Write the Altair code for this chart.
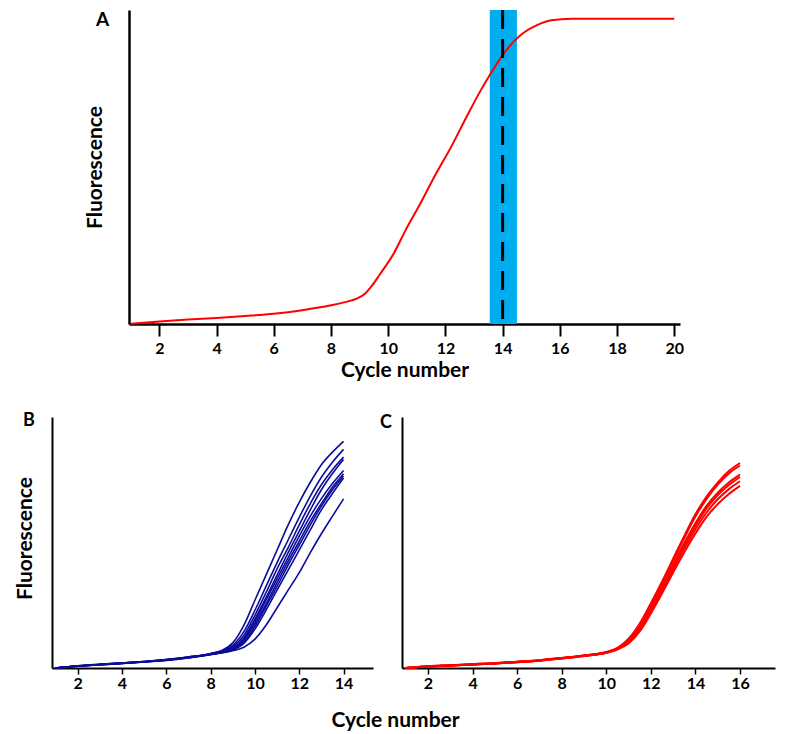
import altair as alt
import pandas as pd

# ---------------- Panel A: single amplification curve ----------------
a_cycle = [1.0, 2.0, 3.0, 4.0, 5.0, 6.0, 7.0, 8.0, 8.5, 8.9, 9.2, 9.4, 9.7,
           10.2, 10.6, 11.1, 11.6, 12.2, 12.75, 13.2, 13.6, 14.0, 14.6,
           15.2, 15.7, 16.4, 20.0]
a_fluor = [0.1, 0.8, 1.4, 1.9, 2.5, 3.2, 4.3, 5.8, 6.8, 7.9, 9.5, 11.5, 15.3,
           22.0, 29.0, 37.0, 45.5, 55.0, 64.5, 72.0, 78.0, 83.5, 89.5,
           92.8, 94.3, 94.8, 94.8]
band_start = [13.55]
band_end = [14.5]
ct_value = [14]
a_ticks = [2, 4, 6, 8, 10, 12, 14, 16, 18, 20]

# ---------------- Panel B: replicate curves (blue) ----------------
b_cycle = [1, 2, 3, 4, 5, 6, 7, 8, 8.5, 9, 9.5, 10, 10.5, 11, 11.5, 12,
           12.5, 13, 13.5, 14]
b_curves = [
    [0, 0.9, 1.5, 2.0, 2.6, 3.4, 4.4, 5.8, 7.0, 10.0, 17.0, 27.0, 37.0, 47.0, 57.0, 66.0, 74.0, 81.0, 86.0, 90.3],
    [0, 0.9, 1.5, 2.0, 2.6, 3.4, 4.4, 5.7, 6.8, 9.0, 14.5, 23.0, 32.5, 42.0, 51.0, 60.0, 68.5, 76.0, 82.0, 87.1],
    [0, 0.8, 1.4, 2.0, 2.6, 3.3, 4.3, 5.6, 6.6, 8.4, 13.0, 21.0, 30.0, 39.5, 48.0, 57.0, 65.5, 73.0, 79.0, 84.0],
    [0, 0.8, 1.4, 1.9, 2.5, 3.3, 4.3, 5.6, 6.5, 8.0, 12.0, 19.5, 28.0, 37.0, 46.0, 54.5, 63.0, 71.0, 77.5, 83.1],
    [0, 0.8, 1.4, 1.9, 2.5, 3.2, 4.2, 5.5, 6.4, 7.8, 11.5, 18.5, 27.0, 35.5, 44.0, 52.5, 60.5, 67.5, 73.5, 78.7],
    [0, 0.8, 1.3, 1.9, 2.5, 3.2, 4.2, 5.5, 6.3, 7.6, 11.0, 17.5, 25.5, 34.0, 42.5, 50.5, 58.5, 65.5, 72.0, 77.4],
    [0, 0.7, 1.3, 1.8, 2.4, 3.1, 4.1, 5.4, 6.2, 7.4, 10.3, 16.5, 24.5, 32.5, 41.0, 49.0, 57.0, 64.5, 71.0, 76.5],
    [0, 0.7, 1.3, 1.8, 2.4, 3.1, 4.1, 5.4, 6.1, 7.2, 9.8, 15.5, 23.0, 31.0, 39.0, 47.0, 55.0, 63.0, 69.5, 75.7],
    [0, 0.7, 1.3, 1.8, 2.4, 3.0, 4.0, 5.3, 6.0, 6.9, 8.3, 11.5, 17.0, 24.0, 31.0, 38.0, 46.0, 53.5, 60.5, 67.4],
]
b_ticks = [2, 4, 6, 8, 10, 12, 14]

# ---------------- Panel C: replicate curves (red) ----------------
c_cycle = [1, 2, 3, 4, 5, 6, 7, 8, 9, 10, 10.5, 11, 11.5, 12, 12.5, 13,
           13.5, 14, 14.5, 15, 15.5, 16]
c_curves = [
    [0, 0.7, 1.1, 1.5, 1.9, 2.5, 3.1, 3.9, 4.9, 6.3, 7.9, 11.5, 17.5, 25.5, 34.0, 43.0, 52.0, 60.5, 67.5, 73.0, 77.5, 80.7],
    [0, 0.7, 1.1, 1.5, 1.9, 2.5, 3.1, 3.9, 4.9, 6.2, 7.7, 11.0, 16.8, 24.8, 33.3, 42.3, 51.2, 59.6, 66.6, 72.2, 76.6, 79.7],
    [0, 0.6, 1.0, 1.4, 1.8, 2.4, 3.0, 3.8, 4.8, 6.1, 7.6, 10.5, 16.0, 23.8, 32.0, 40.8, 49.2, 57.0, 63.8, 69.0, 73.0, 76.1],
    [0, 0.6, 1.0, 1.4, 1.8, 2.4, 3.0, 3.8, 4.8, 6.1, 7.5, 10.2, 15.5, 23.0, 31.2, 40.0, 48.3, 56.0, 62.8, 68.0, 72.0, 75.2],
    [0, 0.6, 1.0, 1.4, 1.8, 2.3, 2.9, 3.7, 4.7, 6.0, 7.4, 10.0, 15.0, 22.3, 30.3, 38.8, 47.0, 54.6, 61.2, 66.4, 70.4, 73.5],
    [0, 0.6, 1.0, 1.4, 1.8, 2.3, 2.9, 3.7, 4.7, 6.0, 7.3, 9.7, 14.4, 21.5, 29.3, 37.6, 45.6, 53.0, 59.5, 64.5, 68.5, 71.7],
]
c_ticks = [2, 4, 6, 8, 10, 12, 14, 16]

FONT = "Lato"
RED = "#ff0000"
NAVY = "#0c0c9c"
CYAN = "#00aeef"

# ---------------- data frames ----------------
a_df = pd.DataFrame({"cycle": a_cycle, "fluor": a_fluor})
band_df = pd.DataFrame({"start": band_start, "end": band_end})
ct_df = pd.DataFrame({"ct": ct_value})

b_rows = []
for i, curve in enumerate(b_curves):
    for c, v in zip(b_cycle, curve):
        b_rows.append({"curve": f"B{i+1}", "cycle": c, "fluor": v})
b_df = pd.DataFrame(b_rows)

c_rows = []
for i, curve in enumerate(c_curves):
    for c, v in zip(c_cycle, curve):
        c_rows.append({"curve": f"C{i+1}", "cycle": c, "fluor": v})
c_df = pd.DataFrame(c_rows)

# ---------------- Panel A ----------------
A_W, A_H = 628, 314          # view starts at the same left as panel B
A_X0 = 77                    # panel A's plot area begins 77 px further right
xA_scale = alt.Scale(domain=[0.94, 20.2], range=[A_X0, A_W], nice=False, zero=False)
xA_axis = alt.Axis(values=a_ticks, title="Cycle number", format="d",
                   tickSize=12, tickWidth=2, domainWidth=2.5,
                   labelFontSize=16, labelPadding=17, labelBaseline="alphabetic",
                   labelFlush=False, labelOverlap=False,
                   titleFontSize=21, titleX=A_X0 + (A_W - A_X0) / 2, titleY=52,
                   titleBaseline="alphabetic")
yA = alt.Y("fluor:Q", scale=alt.Scale(domain=[0, 97.5], nice=False),
           axis=alt.Axis(title="Fluorescence", ticks=False, labels=False,
                         domainWidth=2.5, offset=-A_X0, titleFontSize=21, titleX=-34,
                         titleY=A_H / 2, titleAngle=270, titleAlign="center",
                         titleBaseline="middle"))

band = alt.Chart(band_df).mark_rect(color=CYAN).encode(
    x=alt.X("start:Q", scale=xA_scale, axis=xA_axis), x2="end:Q")
lineA = alt.Chart(a_df).mark_line(color=RED, strokeWidth=2, interpolate="monotone").encode(
    x=alt.X("cycle:Q", scale=xA_scale, axis=xA_axis), y=yA)
ruleA = alt.Chart(ct_df).mark_rule(color="black", strokeWidth=3, strokeDash=[19, 10]).encode(
    x=alt.X("ct:Q", scale=xA_scale, axis=xA_axis))

panelA = alt.layer(band, lineA, ruleA).properties(
    width=A_W, height=A_H,
    title=alt.TitleParams(text="A", anchor="start", frame="group", fontSize=19,
                          font=FONT, fontWeight="bold", baseline="alphabetic",
                          offset=0, dx=44, dy=36, color="black"))

# ---------------- Panels B and C (one view, independent scales) ----------------
BC_W, BC_H = 723, 251
C_X0 = 350

lineB = alt.Chart(b_df).mark_line(color=NAVY, strokeWidth=1.6, interpolate="monotone").encode(
    x=alt.X("cycle:Q", scale=alt.Scale(domain=[0.84, 15.33], range=[0, 321], nice=False, zero=False),
            axis=alt.Axis(orient="bottom", values=b_ticks, title="Cycle number", format="d",
                          tickSize=6, tickWidth=1.5, domainWidth=2,
                          labelFontSize=16, labelPadding=14, labelBaseline="alphabetic",
                          labelFlush=False, labelOverlap=False,
                          titleFontSize=21, titleX=343, titleY=58,
                          titleBaseline="alphabetic")),
    y=alt.Y("fluor:Q", scale=alt.Scale(domain=[0, 100], nice=False),
            axis=alt.Axis(orient="left", title="Fluorescence", ticks=False, labels=False,
                          domainWidth=2, titleFontSize=21, titleX=-26.5,
                          titleY=121, titleAngle=270, titleAlign="center",
                          titleBaseline="middle")),
    detail="curve:N",
)

lineC = alt.Chart(c_df).mark_line(color=RED, strokeWidth=2, interpolate="monotone").encode(
    x=alt.X("cycle:Q", scale=alt.Scale(domain=[0.834, 17.57], range=[C_X0, BC_W], nice=False, zero=False),
            axis=alt.Axis(orient="bottom", values=c_ticks, title=None, format="d",
                          tickSize=6, tickWidth=1.5, domainWidth=2,
                          labelFontSize=16, labelPadding=14, labelBaseline="alphabetic",
                          labelFlush=False, labelOverlap=False)),
    y=alt.Y("fluor:Q", scale=alt.Scale(domain=[0, 98.8], nice=False),
            axis=alt.Axis(orient="left", offset=-C_X0, title="C", ticks=False, labels=False,
                          domainWidth=2, titleFontSize=18, titleAngle=0,
                          titleX=-16.5, titleY=10, titleAlign="center",
                          titleBaseline="alphabetic")),
    detail="curve:N",
)

panelBC = alt.layer(lineB, lineC).resolve_scale(
    x="independent", y="independent"
).resolve_axis(x="independent", y="independent").properties(
    width=BC_W, height=BC_H,
    title=alt.TitleParams(text="B", anchor="start", frame="group", fontSize=18,
                          font=FONT, fontWeight="bold", baseline="alphabetic",
                          offset=0, dx=-29, dy=31, color="black"))

chart = alt.vconcat(panelA, panelBC, spacing=93, bounds="flush").properties(
    padding={"left": 6, "top": 0, "right": 5, "bottom": 5}
).configure_view(stroke=None).configure_axis(
    grid=False, domainColor="black", tickColor="black", labelColor="black",
    titleColor="black", labelFont=FONT, titleFont=FONT,
    labelFontWeight="bold", titleFontWeight="bold"
).configure_title(font=FONT, fontWeight="bold", color="black")

chart.save("out.html", embed_options={"renderer": "svg", "actions": False})
